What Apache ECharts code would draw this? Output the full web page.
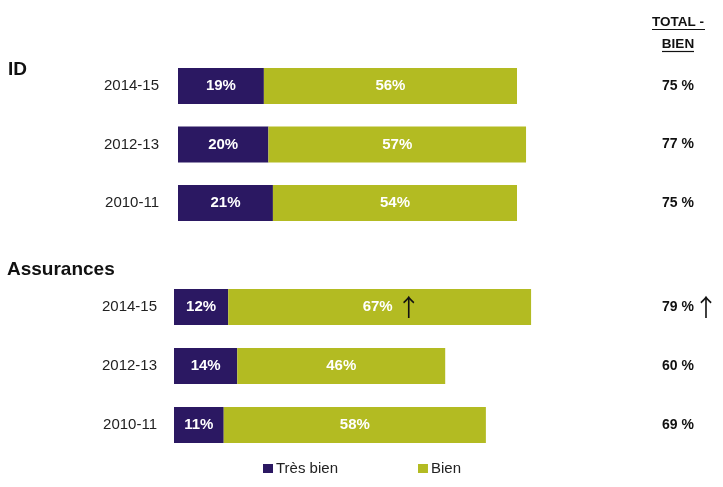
<!DOCTYPE html>
<html>
<head>
<meta charset="utf-8">
<script src="https://cdn.jsdelivr.net/npm/echarts@6/dist/echarts.min.js"></script>
<style>html,body{margin:0;padding:0;background:#fff}#c{width:723px;height:487px}</style>
</head>
<body>
<div id="c"></div>
<script>
// ---- data ----
var periods = ['2014-15', '2012-13', '2010-11'];
var groupNames = ['ID', 'Assurances'];
var seriesNames = ['Très bien', 'Bien'];
var idTresBien = [19, 20, 21];
var idBien = [56, 57, 54];
var idTotal = [75, 77, 75];
var assTresBien = [12, 14, 11];
var assBien = [67, 46, 58];
var assTotal = [79, 60, 69];
var assArrow = [true, false, false];
var idArrow = [false, false, false];
var totalHeader = 'TOTAL -\nBIEN';

// ---- styles ----
var cPurple = '#2b1862';
var cOlive = '#b3bb22';
var FONT = '"Liberation Sans", Arial, sans-serif';
var ARROW_FONT = '"Noto Sans CJK SC", "DejaVu Sans", sans-serif';

var chart = echarts.init(document.getElementById('c'), null, {renderer: 'canvas'});

function catAxis(gi, labelMargin) {
  return {
    type: 'category', gridIndex: gi, data: periods, inverse: true,
    axisLine: {show: false}, axisTick: {show: false},
    axisLabel: {margin: labelMargin, color: '#222', fontFamily: FONT, fontSize: 15}
  };
}
function totalAxis(gi, totals, arrows, labelMargin) {
  return {
    type: 'category', gridIndex: gi, data: totals.map(String), inverse: true, position: 'right',
    axisLine: {show: false}, axisTick: {show: false},
    axisLabel: {
      margin: labelMargin, color: '#111', fontFamily: FONT, fontSize: 14, fontWeight: 'bold',
      formatter: function (v, i) { return v + ' %' + (arrows[i] ? '{a|↑}' : ''); },
      rich: {a: {fontFamily: ARROW_FONT, fontSize: 24, fontWeight: 'normal', color: '#111', padding: [0, 0, 0, 0]}}
    }
  };
}
function valAxis(gi) {
  return {type: 'value', gridIndex: gi, min: 0, max: 100, show: false, splitLine: {show: false}};
}
function barLabel(arrows) {
  return {
    show: true, position: 'inside', color: '#fff', fontFamily: FONT, fontSize: 15, fontWeight: 'bold',
    formatter: function (p) { return p.value + '%' + (arrows && arrows[p.dataIndex] ? '{a|↑}' : ''); },
    rich: {a: {fontFamily: ARROW_FONT, fontSize: 24, fontWeight: 'normal', color: '#111', padding: [0, 0, 0, 4]}}
  };
}
function bienData(vals, arrows) {
  return vals.map(function (v, i) {
    return arrows[i] ? {value: v, label: {offset: [12, 0]}} : v;
  });
}

var option = {
  animation: false,
  backgroundColor: '#fff',
  title: [
    {text: groupNames[0], left: 8, top: 60, padding: 0,
     textStyle: {fontFamily: FONT, fontSize: 19, fontWeight: 'bold', color: '#111'}},
    {text: groupNames[1], left: 7, top: 260, padding: 0,
     textStyle: {fontFamily: FONT, fontSize: 19, fontWeight: 'bold', color: '#111'}}
  ],
  graphic: [
    {type: 'text', x: 678, y: 33, style: {text: totalHeader, align: 'center', verticalAlign: 'middle',
      lineHeight: 22, font: 'bold 13.5px ' + FONT, fill: '#111'}},
    {type: 'line', shape: {x1: 652, y1: 29.5, x2: 705, y2: 29.5}, style: {stroke: '#111', lineWidth: 1.2}},
    {type: 'line', shape: {x1: 662, y1: 51.5, x2: 694, y2: 51.5}, style: {stroke: '#111', lineWidth: 1.2}}
  ],
  legend: {
    data: seriesNames, left: 263, top: 461, icon: 'rect', itemWidth: 10, itemHeight: 9, itemGap: 80,
    padding: 0, selectedMode: false,
    textStyle: {fontFamily: FONT, fontSize: 15, color: '#222', padding: [0, 0, 0, -2]}
  },
  grid: [
    {left: 178, width: 452, top: 56.75, height: 175.5},
    {left: 174, width: 452, top: 277.5, height: 177}
  ],
  xAxis: [valAxis(0), valAxis(1)],
  yAxis: [catAxis(0, 19), totalAxis(0, idTotal, idArrow, 32), catAxis(1, 17), totalAxis(1, assTotal, assArrow, 36)],
  series: [
    {name: seriesNames[0], type: 'bar', stack: 'id', xAxisIndex: 0, yAxisIndex: 0, barWidth: 36,
     itemStyle: {color: cPurple}, label: barLabel(null), data: idTresBien},
    {name: seriesNames[1], type: 'bar', stack: 'id', xAxisIndex: 0, yAxisIndex: 0, barWidth: 36,
     itemStyle: {color: cOlive}, label: barLabel(idArrow), data: bienData(idBien, idArrow)},
    {name: seriesNames[0], type: 'bar', stack: 'as', xAxisIndex: 1, yAxisIndex: 2, barWidth: 36,
     itemStyle: {color: cPurple}, label: barLabel(null), data: assTresBien},
    {name: seriesNames[1], type: 'bar', stack: 'as', xAxisIndex: 1, yAxisIndex: 2, barWidth: 36,
     itemStyle: {color: cOlive}, label: barLabel(assArrow), data: bienData(assBien, assArrow)}
  ]
};
chart.setOption(option);
</script>
</body>
</html>
